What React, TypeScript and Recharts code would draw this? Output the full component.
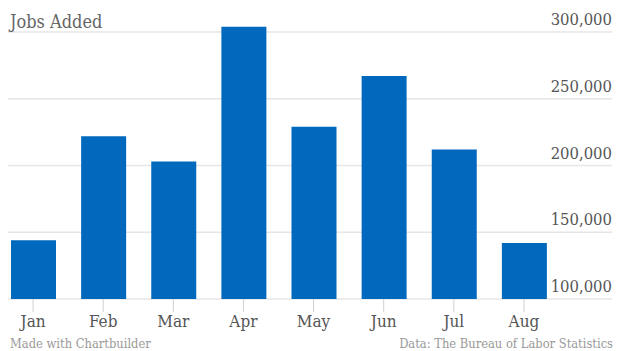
import React from 'react';
import { BarChart, Bar, XAxis, YAxis, CartesianGrid } from 'recharts';

// Monthly jobs added
const months = ['Jan', 'Feb', 'Mar', 'Apr', 'May', 'Jun', 'Jul', 'Aug'];
const jobsAdded = [144000, 222000, 203000, 304000, 229000, 267000, 212000, 142000];
const yTicks = [100000, 150000, 200000, 250000, 300000];

const data = months.map((m, i) => ({ month: m, jobs: jobsAdded[i] }));

const FONT = '"DejaVu Serif Condensed", "DejaVu Serif", serif';

const YTick = (props: any) => {
    const { x, y, payload } = props;
    return (
        <text x={x} y={y - 7} textAnchor="end" fill="#555" fontSize={16.5} fontFamily={FONT} style={{ fontStretch: 'condensed' }}>
            {payload.value.toLocaleString('en-US')}
        </text>
    );
};

const XTick = (props: any) => {
    const { x, y, payload } = props;
    return (
        <text x={x} y={y + 13} textAnchor="middle" fill="#555" fontSize={17} fontFamily={FONT} style={{ fontStretch: 'condensed' }}>
            {payload.value}
        </text>
    );
};

const App = () => {
    return (
        <div style={{ position: 'relative', width: 608, height: 343, fontFamily: FONT, fontStretch: 'condensed' }}>
            <BarChart
                width={608}
                height={343}
                data={data}
                margin={{ top: 4, right: 3, bottom: 22, left: 0 }}
            >
                <CartesianGrid vertical={false} stroke="#e6e6e6" strokeWidth={1.5} horizontalValues={yTicks} />
                <XAxis
                    dataKey="month"
                    axisLine={false}
                    tickLine={{ stroke: '#d0d0d0' }}
                    tickSize={13}
                    height={30}
                    padding={{ left: -10, right: 53 }}
                    tick={<XTick />}
                    interval={0}
                />
                <YAxis
                    orientation="right"
                    domain={[100000, 315000]}
                    ticks={yTicks}
                    width={1}
                    axisLine={false}
                    tickLine={false}
                    tickSize={0}
                    tickMargin={0}
                    tick={<YTick />}
                    allowDataOverflow
                />
                <Bar dataKey="jobs" fill="#0069be" barSize={45} isAnimationActive={false} />
            </BarChart>
            <div style={{ position: 'absolute', left: 2, top: 3, fontSize: 18, color: '#666' }}>Jobs Added</div>
            <div style={{ position: 'absolute', left: 2, top: 328, fontSize: 12.8, color: '#999' }}>Made with Chartbuilder</div>
            <div style={{ position: 'absolute', right: 3, top: 328, fontSize: 12.8, color: '#999' }}>Data: The Bureau of Labor Statistics</div>
        </div>
    );
};

export default App;
